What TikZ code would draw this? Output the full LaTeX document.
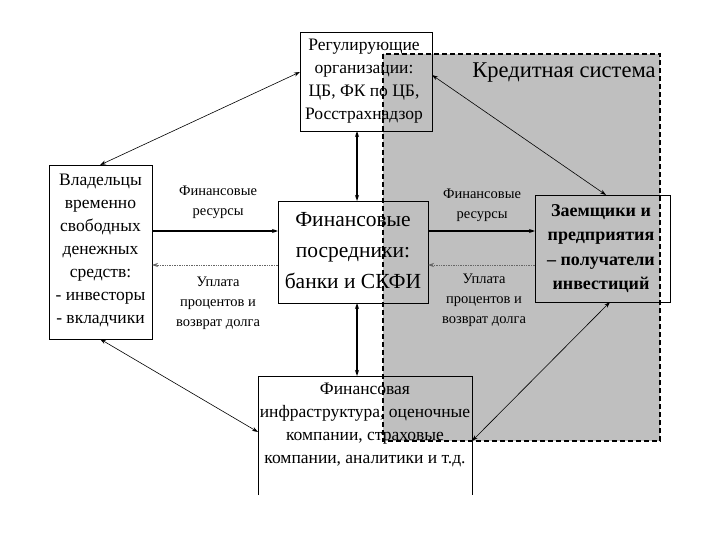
\documentclass[tikz,border=0pt]{standalone}
\usepackage{fontspec}
\setmainfont{Liberation Serif}
\usetikzlibrary{arrows.meta}
\begin{document}
\begin{tikzpicture}[x=1pt,y=-1pt,
  box/.style={draw=black,line width=0.8pt,inner sep=0pt},
  txt/.style={align=center,font=\fontsize{17.5}{23}\selectfont},
  lbl/.style={align=center,font=\fontsize{14.5}{20}\selectfont},
  arr/.style={-{Stealth[length=6pt,width=4pt]},line width=1.1pt},
  darr/.style={-{Stealth[length=6pt,width=4pt]},line width=0.7pt,densely dotted,draw=black!60},
  dbl/.style={{Stealth[length=6pt,width=4pt]}-{Stealth[length=6pt,width=4pt]},line width=0.6pt},
  vdbl/.style={{Stealth[length=6pt,width=4pt]}-{Stealth[length=6pt,width=4pt]},line width=1.1pt}]
\useasboundingbox (0,0) rectangle (720,540);
\fill[white] (0,0) rectangle (720,540);
% credit system region
\fill[black!25] (383,54) rectangle (660,441);
\draw[dashed,line width=1.4pt,dash pattern=on 5pt off 3pt] (383,54) rectangle (660,441);
\node[font=\fontsize{22.5}{26}\selectfont,anchor=center] (ks) at (564,73) {Кредитная система};
% boxes
\draw[box] (300,32) rectangle (432,131);
\node[txt] (reg) at (364,81) {Регулирующие\\организации:\\ЦБ, ФК по ЦБ,\\Росстрахнадзор};
\draw[box] (49,165) rectangle (152,339);
\node[txt] (own) at (100.5,250) {Владельцы\\временно\\свободных\\денежных\\средств:\\- инвесторы\\- вкладчики};
\draw[box] (278,201) rectangle (428,303);
\node[align=center,font=\fontsize{21.5}{31}\selectfont] (fin) at (353,251) {Финансовые\\посредники:\\банки и СКФИ};
\draw[box] (535,195) rectangle (670,302);
\node[align=center,font=\bfseries\fontsize{18}{24.5}\selectfont] (bor) at (601,248.5) {Заемщики и\\предприятия\\– получатели\\инвестиций};
\draw[box] (258,495) -- (258,376) -- (472,376) -- (472,495);
\node[txt] (inf) at (365,425) {Финансовая\\инфраструктура, оценочные\\компании, страховые\\компании, аналитики и т.д.};
% named anchor coordinates
\coordinate (ownR1) at (152,231); \coordinate (finL1) at (278,231);
\coordinate (ownR2) at (152,265); \coordinate (finL2) at (278,265);
\coordinate (finR1) at (428,231); \coordinate (borL1) at (535,231);
\coordinate (finR2) at (428,265); \coordinate (borL2) at (535,265);
\coordinate (regB) at (357,131); \coordinate (finT) at (357,201);
\coordinate (finB) at (357,303); \coordinate (infT) at (357,376);
\coordinate (ownT) at (100,165); \coordinate (regL) at (300,72);
\coordinate (regR) at (432,75); \coordinate (borT) at (606,195);
\coordinate (ownB) at (100,339); \coordinate (infL) at (258,432);
\coordinate (infR) at (472,441); \coordinate (borB) at (610,302);
% arrows
\draw[arr] (ownR1) -- (finL1);
\draw[darr] (finL2) -- (ownR2);
\draw[arr] (finR1) -- (borL1);
\draw[darr] (borL2) -- (finR2);
\draw[vdbl] (regB) -- (finT);
\draw[vdbl] (finB) -- (infT);
\draw[dbl] (ownT) -- (regL);
\draw[dbl] (regR) -- (borT);
\draw[dbl] (ownB) -- (infL);
\draw[dbl] (infR) -- (borB);
% labels
\node[lbl] (l1) at (218,202) {Финансовые\\ресурсы};
\node[lbl] (l2) at (218,303) {Уплата\\процентов и\\возврат долга};
\node[lbl] (l3) at (482,205) {Финансовые\\ресурсы};
\node[lbl] (l4) at (484,300) {Уплата\\процентов и\\возврат долга};
\end{tikzpicture}
\end{document}
